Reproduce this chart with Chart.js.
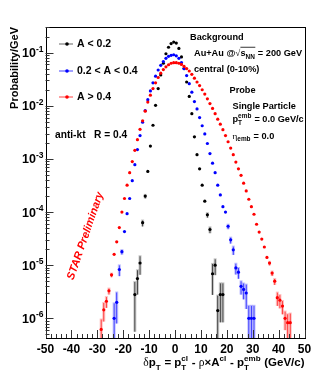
<!DOCTYPE html>
<html>
<head>
<meta charset="utf-8">
<script src="https://cdn.jsdelivr.net/npm/chart.js@4.4.1/dist/chart.umd.min.js"></script>
<style>
html, body { margin: 0; padding: 0; background: #fff; }
#c { display: block; }
</style>
</head>
<body>
<canvas id="c" width="324" height="390"></canvas>
<script>
// bins are 1 GeV wide, first bin centre given by *Start
const blackStart = -15.5;
const blackVals = [
  2.8e-6, 5.6e-6, 1.1e-5, 6.3e-5, 2.0e-4, 5.8e-4, 1.74e-3, 4.3e-3, 1.02e-2, 2.1e-2,
  3.8e-2, 6.3e-2, 9.5e-2, 0.126, 0.148, 0.158, 0.151, 0.12, 8.3e-2, 5.0e-2,
  2.8e-2, 1.5e-2, 7.1e-3, 2.6e-3, 1.2e-3, 6.5e-4, 3.2e-4, 1.6e-4, 8.9e-5, 4.7e-5,
  6.9e-6, 1.0e-5, 1.4e-6, 2.8e-6, 2.8e-6
];
const blueStart = -23.5;
const blueVals = [
  1.0e-6, 2.0e-6, 8.3e-6, 1.8e-5, 4.3e-5, 9.3e-5, 1.8e-4, 3.9e-4, 7.8e-4, 1.5e-3,
  2.75e-3, 4.9e-3, 8.1e-3, 1.3e-2, 1.9e-2, 2.7e-2, 3.6e-2, 4.7e-2, 5.75e-2, 6.8e-2,
  7.8e-2, 8.5e-2, 8.9e-2, 9.1e-2, 8.7e-2, 7.8e-2, 6.5e-2, 5.0e-2, 3.7e-2, 2.6e-2,
  1.8e-2, 1.2e-2, 8.7e-3, 6.0e-3, 4.2e-3, 2.95e-3, 1.95e-3, 1.26e-3, 8.3e-4, 5.5e-4,
  3.2e-4, 2.1e-4, 1.26e-4, 1.0e-4, 5.4e-5, 3.0e-5, 1.95e-5, 8.9e-6, 7.4e-6, 4.0e-6,
  3.5e-6, 3.0e-6, 1.0e-6, 1.0e-6, 1.0e-6
];
const redStart = -28.5;
const redVals = [
  6.2e-7, 1.45e-6, 2.1e-6, 3.3e-6, 6.6e-6, 1.6e-5, 2.75e-5, 5.1e-5, 1.0e-4, 1.8e-4,
  3.2e-4, 5.5e-4, 8.9e-4, 1.45e-3, 2.3e-3, 3.6e-3, 5.2e-3, 7.9e-3, 1.17e-2, 1.58e-2,
  2.1e-2, 2.7e-2, 3.4e-2, 4.1e-2, 4.8e-2, 5.4e-2, 5.9e-2, 6.3e-2, 6.45e-2, 6.45e-2,
  6.3e-2, 6.0e-2, 5.5e-2, 5.0e-2, 4.5e-2, 3.9e-2, 3.3e-2, 2.8e-2, 2.4e-2, 2.0e-2,
  1.66e-2, 1.35e-2, 1.1e-2, 8.9e-3, 7.1e-3, 5.6e-3, 4.5e-3, 3.55e-3, 2.75e-3, 2.1e-3,
  1.6e-3, 1.2e-3, 8.7e-4, 6.5e-4, 4.9e-4, 3.5e-4, 2.5e-4, 1.74e-4, 1.26e-4, 9.1e-5,
  5.9e-5, 4.2e-5, 3.1e-5, 2.2e-5, 1.4e-5, 1.1e-5, 7.1e-6, 5.0e-6, 2.45e-6, 2.2e-6,
  1.7e-6, 1.0e-6, 8.3e-7, 8.3e-7
];

// [bin centre, relative error] for the points that show an error bar
const blackErr = [[-15.5, 0.8], [-14.5, 0.5], [-13.5, 0.4], [-12.5, 0.15], [-11.5, 0.1],
  [12.5, 0.12], [13.5, 0.15], [14.5, 0.6], [15.5, 0.35], [16.5, 1.0], [17.5, 0.7], [18.5, 0.7]];
const blueErr = [[-23.5, 1.0], [-22.5, 0.6], [-21.5, 0.25], [-20.5, 0.12], [20.5, 0.12], [21.5, 0.15],
  [22.5, 0.2], [23.5, 0.25], [24.5, 0.25], [25.5, 0.3], [26.5, 0.35], [27.5, 0.5],
  [28.5, 0.8], [29.5, 0.8], [30.5, 0.8]];
const redErr = [[-28.5, 0.6], [-27.5, 0.4], [-26.5, 0.25], [-25.5, 0.15], [-24.5, 0.1],
  [36.5, 0.1], [37.5, 0.12], [38.5, 0.15], [39.5, 0.3], [40.5, 0.3], [41.5, 0.3],
  [42.5, 0.4], [43.5, 0.5], [44.5, 0.55]];

const seriesLabels = ['A < 0.2', '0.2 < A < 0.4', 'A > 0.4'];
const xTicks = [-50, -40, -30, -20, -10, 0, 10, 20, 30, 40, 50];
const yDecades = [-6, -5, -4, -3, -2, -1];
const xMin = -50, xMax = 50;
const yMin = 4.27e-7, yMax = 0.303;

const FB = s => 'bold ' + s + 'px "Liberation Sans", Arial, sans-serif';
const FG = s => s + 'px "Liberation Serif", "DejaVu Serif", serif';

function toPts(start, vals) {
  return vals.map((v, i) => ({ x: start + i, y: v }));
}

function partWidth(ctx, p, size) {
  if (typeof p === 'string') { ctx.font = FB(size); return ctx.measureText(p).width; }
  if (p.g) { ctx.font = FG(size); return ctx.measureText(p.g).width; }
  ctx.font = FB(size * 0.7);
  const a = p.sub ? ctx.measureText(p.sub).width : 0;
  const b = p.sup ? ctx.measureText(p.sup).width : 0;
  return Math.max(a, b) + 0.5;
}

// small helper for ROOT-like latex strings
function drawRich(ctx, parts, x, y, size, align) {
  const ws = parts.map(p => partWidth(ctx, p, size));
  const total = ws.reduce((a, b) => a + b, 0);
  let cx = align === 'right' ? x - total : x;
  const xs = [];
  ctx.textAlign = 'left';
  ctx.textBaseline = 'alphabetic';
  parts.forEach((p, i) => {
    xs.push(cx);
    if (typeof p === 'string') { ctx.font = FB(size); ctx.fillText(p, cx, y); }
    else if (p.g) { ctx.font = FG(size); ctx.fillText(p.g, cx, y); }
    else {
      ctx.font = FB(size * 0.7);
      if (p.sub) ctx.fillText(p.sub, cx, y + size * 0.32);
      if (p.sup) ctx.fillText(p.sup, cx, y - size * 0.45);
    }
    cx += ws[i];
  });
  xs.push(cx);
  return xs;
}

const errColors = ['rgba(0,0,0,0.22)', 'rgba(0,0,255,0.25)', 'rgba(255,0,0,0.25)'];
const errLists = [blackErr, blueErr, redErr];
const seriesVals = [[blackStart, blackVals], [blueStart, blueVals], [redStart, redVals]];

const decoPlugin = {
  id: 'deco',
  beforeDatasetsDraw(chart) {
    const ctx = chart.ctx, xs = chart.scales.x, ys = chart.scales.y, a = chart.chartArea;
    ctx.save();
    ctx.beginPath();
    ctx.rect(a.left, a.top, a.right - a.left, a.bottom - a.top);
    ctx.clip();
    errLists.forEach((list, k) => {
      const [start, vals] = seriesVals[k];
      const col = chart.data.datasets[k].backgroundColor;
      list.forEach(([x, r]) => {
        const v = vals[Math.round(x - start)];
        const hi = v * (1 + r);
        const lo = v * (1 - r) > yMin ? v * (1 - r) : yMin;
        const px = xs.getPixelForValue(x);
        const y1 = ys.getPixelForValue(hi), y2 = ys.getPixelForValue(lo);
        ctx.fillStyle = errColors[k];
        ctx.fillRect(px - 1.5, y1, 3, y2 - y1);
        ctx.globalAlpha = 0.8;
        ctx.fillStyle = col;
        ctx.fillRect(px - 0.4, y1 + 1, 0.8, y2 - y1 - 1);
        ctx.globalAlpha = 1;
      });
    });
    ctx.restore();
  },
  afterDraw(chart) {
    const ctx = chart.ctx, xs = chart.scales.x, ys = chart.scales.y, a = chart.chartArea;
    ctx.save();
    // frame
    ctx.strokeStyle = '#000';
    ctx.lineWidth = 1;
    ctx.strokeRect(Math.round(a.left) + 0.5, Math.round(a.top) + 0.5,
      Math.round(a.right - a.left), Math.round(a.bottom - a.top));

    // x ticks, pointing inwards
    ctx.strokeStyle = '#333';
    ctx.beginPath();
    for (let v = xMin; v <= xMax; v += 2) {
      const px = Math.round(xs.getPixelForValue(v)) + 0.5;
      const len = v % 10 === 0 ? 8 : 4;
      ctx.moveTo(px, a.bottom);
      ctx.lineTo(px, a.bottom - len);
    }
    // y ticks (log)
    yDecades.concat([0]).forEach(d => {
      for (let m = 1; m <= 9; m++) {
        const val = m * Math.pow(10, d - 1);
        if (val < yMin || val > yMax) continue;
        const py = Math.round(ys.getPixelForValue(val)) + 0.5;
        const len = m === 1 ? 8 : 4;
        ctx.moveTo(a.left, py);
        ctx.lineTo(a.left + len, py);
      }
    });
    ctx.stroke();

    // y labels 10^n
    ctx.fillStyle = '#000';
    yDecades.forEach(d => {
      const py = ys.getPixelForValue(Math.pow(10, d));
      ctx.font = FB(8.5);
      const ew = ctx.measureText('-' + Math.abs(d)).width;
      ctx.textAlign = 'right';
      ctx.textBaseline = 'alphabetic';
      ctx.fillText('-' + Math.abs(d), a.left - 2, py - 1);
      ctx.font = FB(12.5);
      ctx.fillText('10', a.left - 2 - ew, py + 4.5);
    });

    // axis titles
    ctx.save();
    ctx.translate(18, a.top);
    ctx.rotate(-Math.PI / 2);
    ctx.font = FB(11);
    ctx.textAlign = 'right';
    ctx.textBaseline = 'alphabetic';
    ctx.fillText('Probability/GeV', 0, 0);
    ctx.restore();

    drawRich(ctx, [{ g: 'δ' }, 'p', { sub: 'T' }, ' = p', { sub: 'T', sup: 'cl' }, ' - ', { g: 'ρ' },
      '×A', { sup: 'cl' }, ' - p', { sub: 'T', sup: 'emb' }, ' (GeV/c)'], a.right, 366, 11.5, 'right');

    // legend
    const legY = [44, 71, 97];
    const legLine = ['#999', '#8080ff', '#ff8080'];
    chart.data.datasets.forEach((ds, k) => {
      ctx.strokeStyle = legLine[k];
      ctx.lineWidth = 1.5;
      ctx.beginPath();
      ctx.moveTo(59, legY[k]);
      ctx.lineTo(73, legY[k]);
      ctx.stroke();
      ctx.fillStyle = ds.backgroundColor;
      ctx.beginPath();
      ctx.arc(67, legY[k], 1.8, 0, Math.PI * 2);
      ctx.fill();
      ctx.fillStyle = '#000';
      ctx.font = FB(10.5);
      ctx.textAlign = 'left';
      ctx.textBaseline = 'middle';
      ctx.fillText(ds.label, 77, legY[k] + 0.5);
    });

    // annotations
    ctx.fillStyle = '#000';
    const fs = 9.2;
    drawRich(ctx, ['Background'], 190, 40, fs);
    const p = drawRich(ctx, ['Au+Au @', { g: '√' }, 's', { sub: 'NN' }, ' = 200 GeV'], 194, 56, fs);
    ctx.strokeStyle = '#000';
    ctx.lineWidth = 0.8;
    ctx.beginPath();
    ctx.moveTo(p[2], 56 - fs * 0.95);
    ctx.lineTo(p[4], 56 - fs * 0.95);
    ctx.stroke();
    drawRich(ctx, ['central (0-10%)'], 194, 71.5, fs);
    drawRich(ctx, ['Probe'], 229.5, 93, fs);
    drawRich(ctx, ['Single Particle'], 232.5, 108.5, fs);
    drawRich(ctx, ['p', { sub: 'T', sup: 'emb' }, ' = 0.0 GeV/c'], 232.5, 122, fs);
    drawRich(ctx, [{ g: 'η' }, { sub: 'emb' }, ' = 0.0'], 232.5, 138.5, fs);
    drawRich(ctx, ['anti-kt   R = 0.4'], 55, 138, 10.2);

    ctx.save();
    ctx.translate(85.5, 236);
    ctx.rotate(-71 * Math.PI / 180);
    ctx.fillStyle = '#ff0000';
    ctx.font = 'italic bold 11px "Liberation Sans", Arial, sans-serif';
    ctx.textAlign = 'center';
    ctx.textBaseline = 'middle';
    ctx.fillText('STAR Preliminary', 0, 0);
    ctx.restore();

    ctx.restore();
  }
};

const mk = (label, pts, color, order) => ({
  label: label,
  data: pts,
  showLine: false,
  backgroundColor: color,
  borderColor: color,
  pointRadius: 1.6,
  pointBorderWidth: 0,
  pointBackgroundColor: color,
  order: order
});

new Chart(document.getElementById('c'), {
  type: 'scatter',
  data: {
    datasets: [
      mk(seriesLabels[0], toPts(blackStart, blackVals), '#000000', 3),
      mk(seriesLabels[1], toPts(blueStart, blueVals), '#0000ff', 2),
      mk(seriesLabels[2], toPts(redStart, redVals), '#ff0000', 1)
    ]
  },
  options: {
    responsive: false,
    animation: false,
    devicePixelRatio: 1,
    layout: { padding: { left: 45.5, right: 19.5, top: 27, bottom: 29 } },
    plugins: { legend: { display: false }, tooltip: { enabled: false } },
    scales: {
      x: {
        type: 'linear',
        min: xMin,
        max: xMax,
        afterFit: s => { s.height = 23; },
        afterBuildTicks: s => { s.ticks = xTicks.map(v => ({ value: v })); },
        grid: { display: false, drawTicks: false },
        border: { display: false },
        ticks: {
          color: '#000',
          padding: 4,
          maxRotation: 0,
          autoSkip: false,
          font: { family: '"Liberation Sans", Arial, sans-serif', size: 12, weight: 'bold' }
        }
      },
      y: {
        type: 'logarithmic',
        min: yMin,
        max: yMax,
        display: false
      }
    }
  },
  plugins: [decoPlugin]
});
</script>
</body>
</html>
